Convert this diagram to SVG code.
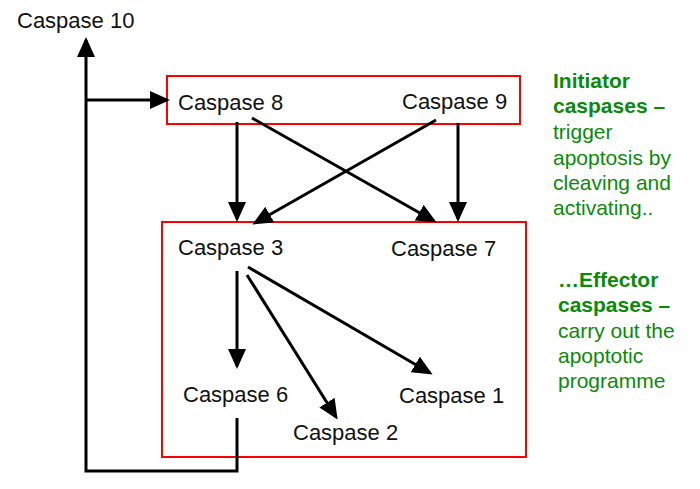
<svg xmlns="http://www.w3.org/2000/svg" width="700" height="489" viewBox="0 0 700 489">
<style>
.lbl{font-family:"Liberation Sans",Arial,sans-serif;font-size:22px;fill:#111}
.grp{fill:none;stroke:#ff0000;stroke-width:2}
.c{fill:none;stroke:#000;stroke-width:3}
.g{font-family:"Liberation Sans",Arial,sans-serif;font-size:21px;fill:#0a8a0a}
.b{font-weight:bold}
</style>
<defs>
<marker id="ah" viewBox="0 0 20 18" refX="17" refY="9" markerWidth="20" markerHeight="18" markerUnits="userSpaceOnUse" orient="auto">
<path d="M0,0 L20,9 L0,18 Z" fill="#000"/>
</marker>
</defs>
<rect width="700" height="489" fill="#fff"/>
<g id="groups">
<rect class="grp" x="167" y="76" width="353" height="48"/>
<rect class="grp" x="162" y="222" width="364" height="235"/>
</g>
<g id="connectors">
<polyline class="c" points="237,418 237,471 86,471 86,40" marker-end="url(#ah)"/>
<line class="c" x1="86" y1="100" x2="167" y2="100" marker-end="url(#ah)"/>
<line class="c" x1="237" y1="122" x2="237" y2="219" marker-end="url(#ah)"/>
<line class="c" x1="458" y1="123" x2="458" y2="219" marker-end="url(#ah)"/>
<line class="c" x1="252" y1="118" x2="434" y2="221" marker-end="url(#ah)"/>
<line class="c" x1="436" y1="120" x2="255" y2="223" marker-end="url(#ah)"/>
<line class="c" x1="237" y1="271" x2="237" y2="366" marker-end="url(#ah)"/>
<line class="c" x1="247" y1="275" x2="336" y2="417" marker-end="url(#ah)"/>
<line class="c" x1="248" y1="267" x2="430" y2="373" marker-end="url(#ah)"/>
</g>
<g id="caspase10"><text class="lbl" x="17" y="28">Caspase 10</text></g>
<g id="caspase8"><text class="lbl" x="178" y="110">Caspase 8</text></g>
<g id="caspase9"><text class="lbl" x="402" y="109">Caspase 9</text></g>
<g id="caspase3"><text class="lbl" x="178" y="255">Caspase 3</text></g>
<g id="caspase7"><text class="lbl" x="391" y="256">Caspase 7</text></g>
<g id="caspase6"><text class="lbl" x="183" y="402">Caspase 6</text></g>
<g id="caspase1"><text class="lbl" x="399" y="403">Caspase 1</text></g>
<g id="caspase2"><text class="lbl" x="293" y="440">Caspase 2</text></g>
<g id="initiator-note">
<text class="g" x="553"><tspan class="b" x="553" y="88">Initiator</tspan><tspan class="b" x="553" y="113">caspases –</tspan><tspan x="553" y="139">trigger</tspan><tspan x="553" y="165">apoptosis by</tspan><tspan x="553" y="190">cleaving and</tspan><tspan x="553" y="215">activating..</tspan></text>
</g>
<g id="effector-note">
<text class="g" x="558"><tspan class="b" x="558" y="287">…Effector</tspan><tspan class="b" x="558" y="312">caspases –</tspan><tspan x="558" y="338">carry out the</tspan><tspan x="558" y="363">apoptotic</tspan><tspan x="558" y="388">programme</tspan></text>
</g>
</svg>
